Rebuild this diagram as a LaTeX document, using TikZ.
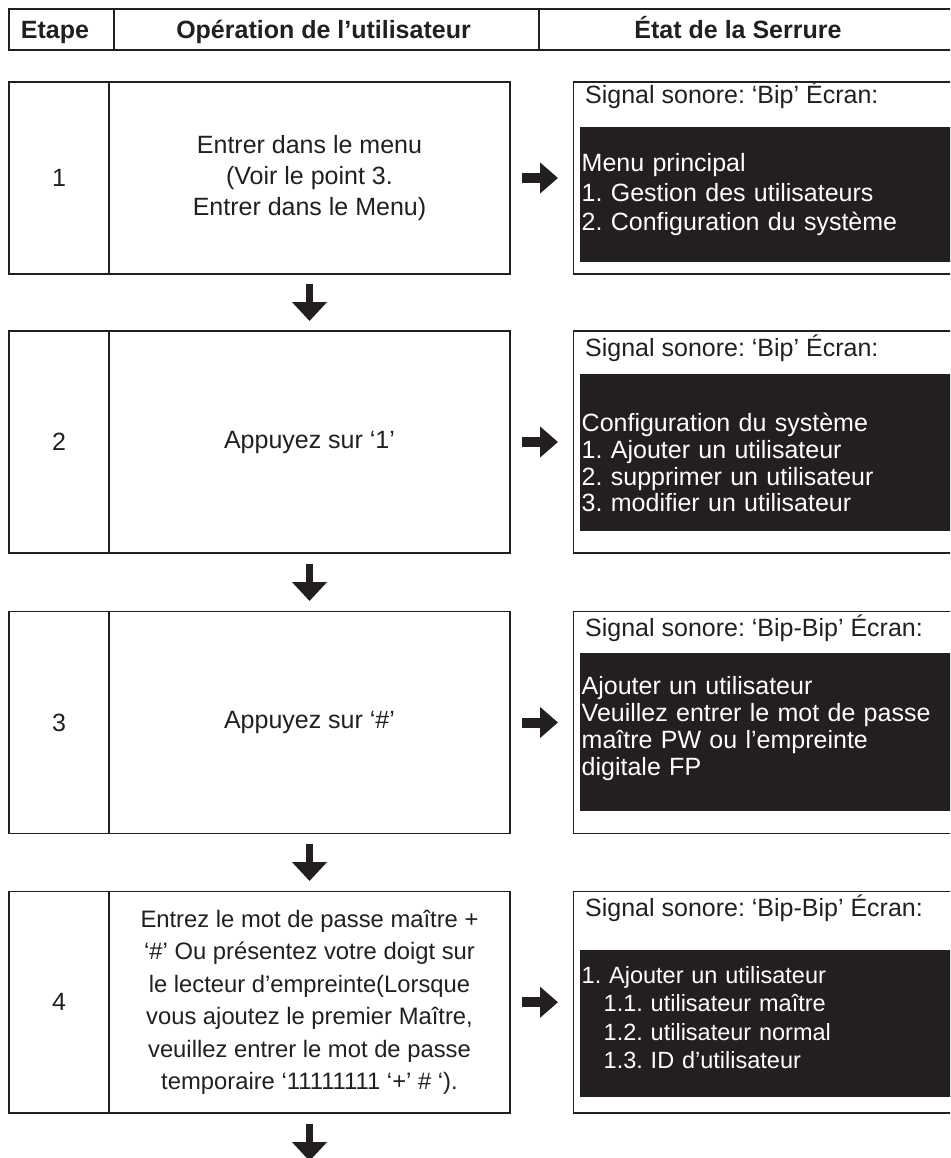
\documentclass[tikz,border=0pt]{standalone}
\usepackage{fontspec}
\setmainfont{Liberation Sans}
\usetikzlibrary{arrows.meta}
\definecolor{ink}{HTML}{231F20}
\frenchspacing
\begin{document}
\begin{tikzpicture}[x=1pt,y=-1pt,
  cell/.style={draw=ink, line width=1.6pt, inner sep=0pt, outer sep=0pt, anchor=north west, text=ink},
  stepnum/.style={cell, font=\fontsize{25}{31}\selectfont},
  optext/.style={cell, align=center, font=\fontsize{25}{31}\selectfont},
  optextsmall/.style={cell, align=center, font=\fontsize{23.8}{32.4}\selectfont},
  screen/.style={fill=ink, draw=none, inner sep=0pt, outer sep=0pt, anchor=north west},
  sigtxt/.style={text=ink, inner sep=0pt, anchor=base west, font=\fontsize{25}{30}\selectfont},
  scrtxt/.style={text=white, inner sep=0pt, anchor=base west, text width=365pt, align=left},
  hdrtxt/.style={text=ink, inner sep=0pt, anchor=base, font=\fontsize{25}{30}\selectfont\bfseries},
  varrow/.style={draw=ink, line width=7pt, -{Triangle[width=34pt,length=19pt]}},
  harrow/.style={draw=ink, line width=10pt, -{Triangle[width=30pt,length=18pt]}}]
\useasboundingbox (0,0) rectangle (950,1158);
\clip (0,0) rectangle (950,1158);
\fill[white] (0,0) rectangle (950,1158);

% header
\node[draw=ink, line width=2pt, inner sep=0pt, outer sep=0pt, anchor=north west,
      minimum width=960pt, minimum height=41pt] (hdr) at (9,9) {};
\draw[ink, line width=1.4pt] (114,9) -- (114,50);
\draw[ink, line width=1.4pt] (539,9) -- (539,50);
\node[hdrtxt] (h1) at (55,39) {Etape};
\node[hdrtxt] (h2) at (323.5,39) {Opération de l’utilisateur};
\node[hdrtxt] (h3) at (738,39) {État de la Serrure};

% row 1
\node[stepnum, minimum width=100pt, minimum height=192pt] (n1) at (9,82) {1};
\node[optext, minimum width=401pt, minimum height=192pt] (o1) at (109,82)
  {Entrer dans le menu\\(Voir le point 3.\\Entrer dans le Menu)};
\node[cell, minimum width=390pt, minimum height=192pt] (st1) at (573.5,82) {};
\node[screen, minimum width=380pt, minimum height=135pt] (sc1) at (580,127) {};
\node[sigtxt] (sg1) at (585,103.3) {Signal sonore: ‘Bip’ Écran:};
\node[scrtxt, font=\fontsize{25}{29.5}\selectfont] (t1) at (581.5,171.7)
  {Menu principal\\1. Gestion des utilisateurs\\2. Configuration du système};

% row 2
\node[stepnum, minimum width=100pt, minimum height=222pt] (n2) at (9,331) {2};
\node[optext, minimum width=401pt, minimum height=222pt] (o2) at (109,331)
  {Appuyez sur ‘1’};
\node[cell, minimum width=390pt, minimum height=222pt] (st2) at (573.5,331) {};
\node[screen, minimum width=380pt, minimum height=156.7pt] (sc2) at (580,374) {};
\node[sigtxt] (sg2) at (585,356.7) {Signal sonore: ‘Bip’ Écran:};
\node[scrtxt, font=\fontsize{25}{26.7}\selectfont] (t2) at (581.5,431.7)
  {Configuration du système\\1. Ajouter un utilisateur\\2. supprimer un utilisateur\\3. modifier un utilisateur};

% row 3
\node[stepnum, minimum width=100pt, minimum height=222pt] (n3) at (9,611.5) {3};
\node[optext, minimum width=401pt, minimum height=222pt] (o3) at (109,611.5)
  {Appuyez sur ‘\#’};
\node[cell, minimum width=390pt, minimum height=222pt] (st3) at (573.5,611.5) {};
\node[screen, minimum width=380pt, minimum height=157.7pt] (sc3) at (580,653) {};
\node[sigtxt] (sg3) at (585,636.7) {Signal sonore: ‘Bip-Bip’ Écran:};
\node[scrtxt, font=\fontsize{25}{27}\selectfont] (t3) at (581.5,694)
  {Ajouter un utilisateur\\Veuillez entrer le mot de passe\\maître PW ou l’empreinte\\digitale FP};

% row 4
\node[stepnum, minimum width=100pt, minimum height=221.5pt] (n4) at (9,891.5) {4};
\node[optextsmall, minimum width=401pt, minimum height=221.5pt] (o4) at (109,891.5)
  {Entrez le mot de passe maître +\\‘\#’ Ou présentez votre doigt sur\\le lecteur d’empreinte(Lorsque\\vous ajoutez le premier Maître,\\veuillez entrer le mot de passe\\temporaire ‘11111111 ‘+’ \# ‘).};
\node[cell, minimum width=390pt, minimum height=221.5pt] (st4) at (573.5,891.5) {};
\node[screen, minimum width=380pt, minimum height=147pt] (sc4) at (580,950) {};
\node[sigtxt] (sg4) at (585,916.5) {Signal sonore: ‘Bip-Bip’ Écran:};
\node[scrtxt, font=\fontsize{23.5}{28.5}\selectfont] (t4) at (581.5,983)
  {1. Ajouter un utilisateur\\\hspace*{22pt}1.1. utilisateur maître\\\hspace*{22pt}1.2. utilisateur normal\\\hspace*{22pt}1.3. ID d’utilisateur};

% arrows
\draw[harrow, shorten <=12pt, shorten >=15.5pt] (o1.east) -- (st1.west);
\draw[harrow, shorten <=12pt, shorten >=15.5pt] (o2.east) -- (st2.west);
\draw[harrow, shorten <=12pt, shorten >=15.5pt] (o3.east) -- (st3.west);
\draw[harrow, shorten <=12pt, shorten >=15.5pt] (o4.east) -- (st4.west);
\draw[varrow, shorten <=10.3pt, shorten >=10pt] (o1.south) -- (o2.north);
\draw[varrow, shorten <=10.5pt, shorten >=10.5pt] (o2.south) -- (o3.north);
\draw[varrow, shorten <=10.5pt, shorten >=10.5pt] (o3.south) -- (o4.north);
\coordinate (endarrow) at (309.5,1161);
\draw[varrow, shorten <=11pt] (o4.south) -- (endarrow);
\end{tikzpicture}
\end{document}
